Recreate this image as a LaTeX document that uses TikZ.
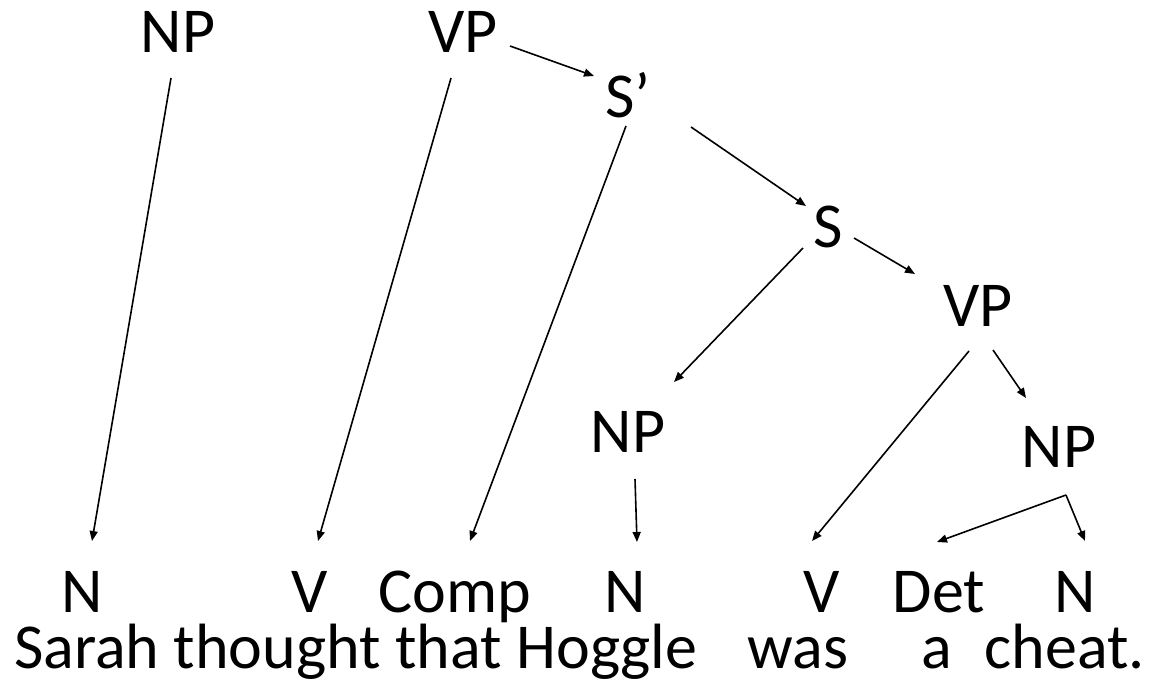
\documentclass[tikz,border=0pt]{standalone}
\usepackage{fontspec}
\setmainfont{Carlito}
\usetikzlibrary{arrows.meta}
\begin{document}
\begin{tikzpicture}[x=1pt,y=-1pt,
  lbl/.style={inner sep=0pt,anchor=base,font=\fontsize{64}{70}\selectfont},
  arr/.style={line width=1.6pt,-{Triangle[length=10pt,width=8pt]}}]
\useasboundingbox (0,0) rectangle (1163,686);
% phrase nodes
\node[lbl] (np1) at (178,52) {NP};
\node[lbl] (vp1) at (463,52) {VP};
\node[lbl] (sbar) at (628,117) {S’};
\node[lbl] (s) at (828,247) {S};
\node[lbl] (vp2) at (978,326) {VP};
\node[lbl] (np2) at (628,452) {NP};
\node[lbl] (np3) at (1059,467) {NP};
% word categories
\node[lbl] (n1) at (82,612) {N};
\node[lbl] (v1) at (310,612) {V};
\node[lbl] (comp) at (455,612) {Comp};
\node[lbl] (n2) at (625,612) {N};
\node[lbl] (v2) at (822,612) {V};
\node[lbl] (det) at (939,612) {Det};
\node[lbl] (n3) at (1075,612) {N};
% words
\node[lbl,anchor=base west] (w1) at (14,668) {Sarah thought that Hoggle};
\node[lbl] (w2) at (798,668) {was};
\node[lbl] (w3) at (937,668) {a};
\node[lbl,anchor=base east] (w4) at (1145,668) {cheat.};
% connectors
\draw[arr] ([shift={(-7,26)}]np1.base) -- ([shift={(10,-71)}]n1.base);
\draw[arr] ([shift={(-12,26)}]vp1.base) -- ([shift={(8,-71)}]v1.base);
\draw[arr] ([shift={(47,-6)}]vp1.base) -- ([shift={(-34,-41)}]sbar.base);
\draw[arr] ([shift={(-2,9)}]sbar.base) -- ([shift={(15,-71)}]comp.base);
\draw[arr] ([shift={(63,10)}]sbar.base) -- ([shift={(-22,-41)}]s.base);
\draw[arr] ([shift={(-25,1)}]s.base) -- ([shift={(46,-70)}]np2.base);
\draw[arr] ([shift={(26,-9)}]s.base) -- ([shift={(-63,-52)}]vp2.base);
\draw[arr] ([shift={(-9,25)}]vp2.base) -- ([shift={(-10,-71)}]v2.base);
\draw[arr] ([shift={(15,24)}]vp2.base) -- ([shift={(-33,-69)}]np3.base);
\draw[arr] ([shift={(7,27)}]np2.base) -- ([shift={(12,-70)}]n2.base);
\coordinate (np3c) at ([shift={(7,28)}]np3.base);
\draw[arr] (np3c) -- ([shift={(-2,-70)}]det.base);
\draw[arr] (np3c) -- ([shift={(10,-71)}]n3.base);
\end{tikzpicture}
\end{document}
